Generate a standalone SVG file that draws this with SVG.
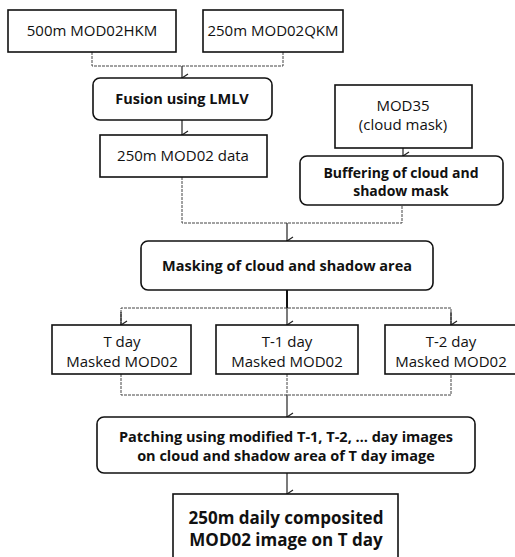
<svg xmlns="http://www.w3.org/2000/svg" width="515" height="557" viewBox="0 0 515 557">
<defs>
<marker id="arr" markerWidth="10" markerHeight="10" refX="5" refY="8" orient="auto" markerUnits="userSpaceOnUse" viewBox="0 0 10 10">
<path d="M1,2 L5,8 L9,2" fill="none" stroke="#222" stroke-width="1.2"/>
</marker>
</defs>
<style>
.box{fill:#fff;stroke:#111;stroke-width:1.6}
.t{font-family:"Open Sans","Noto Sans","DejaVu Sans",sans-serif;font-size:15px;fill:#111;text-anchor:middle}
.b{font-weight:bold;font-size:14.5px}
.c{fill:none;stroke:#444;stroke-width:1;stroke-dasharray:3,1}
.a{fill:none;stroke:#222;stroke-width:1.2;marker-end:url(#arr)}
</style>
<rect width="515" height="557" fill="#fff"/>
<g id="connectors">
<path class="c" d="M92,52 V66 H283 V52"/>
<path class="a" d="M182,66 V78"/>
<path class="a" d="M182,120 V135"/>
<path class="a" d="M403,148 V156"/>
<path class="c" d="M182,177 V223 H402 V205"/>
<path class="a" d="M287,223 V241"/>
<path d="M287,290 V308" fill="none" stroke="#111" stroke-width="2"/>
<path class="c" d="M121,325 V308 H451 V325"/>
<path class="a" d="M121,312 V325"/>
<path class="a" d="M287,308 V325"/>
<path class="a" d="M451,312 V325"/>
<path class="c" d="M121,374 V395 H451 V374"/>
<path class="c" d="M287,374 V395"/>
<path class="a" d="M287,395 V417" stroke-width="1.6"/>
<path class="a" d="M287,473 V494"/>
</g>
<g id="n1"><rect class="box" x="8" y="10" width="168" height="42"/><text class="t" x="92" y="36">500m MOD02HKM</text></g>
<g id="n2"><rect class="box" x="203" y="10" width="140" height="42"/><text class="t" x="273" y="36">250m MOD02QKM</text></g>
<g id="n3"><rect class="box" x="93" y="78" width="179" height="42" rx="7"/><text class="t b" x="182" y="104">Fusion using LMLV</text></g>
<g id="n4"><rect class="box" x="100" y="135" width="167" height="42"/><text class="t" x="183" y="161">250m MOD02 data</text></g>
<g id="n5"><rect class="box" x="335" y="85" width="137" height="63"/><text class="t" x="403" y="111">MOD35</text><text class="t" x="403" y="130">(cloud mask)</text></g>
<g id="n6"><rect class="box" x="300" y="156" width="203" height="49" rx="7"/><text class="t b" x="401" y="178" style="font-size:14px">Buffering of cloud and</text><text class="t b" x="401" y="196" style="font-size:14px">shadow mask</text></g>
<g id="n7"><rect class="box" x="141" y="241" width="292" height="49" rx="7"/><text class="t b" x="287" y="271">Masking of cloud and shadow area</text></g>
<g id="n8"><rect class="box" x="52" y="325" width="139" height="49"/><text class="t" x="122" y="347">T day</text><text class="t" x="122" y="367">Masked MOD02</text></g>
<g id="n9"><rect class="box" x="216" y="325" width="142" height="49"/><text class="t" x="287" y="347">T-1 day</text><text class="t" x="287" y="367">Masked MOD02</text></g>
<g id="n10"><rect class="box" x="385" y="325" width="140" height="49"/><text class="t" x="451" y="347">T-2 day</text><text class="t" x="451" y="367">Masked MOD02</text></g>
<g id="n11"><rect class="box" x="97" y="417" width="378" height="56" rx="7"/><text class="t b" x="286" y="442">Patching using modified T-1, T-2, … day images</text><text class="t b" x="286" y="461">on cloud and shadow area of T day image</text></g>
<g id="n12"><rect class="box" x="173" y="494" width="225" height="70"/><text class="t b" x="286" y="524" style="font-size:17px">250m daily composited</text><text class="t b" x="286" y="546" style="font-size:17px">MOD02 image on T day</text></g>
</svg>
